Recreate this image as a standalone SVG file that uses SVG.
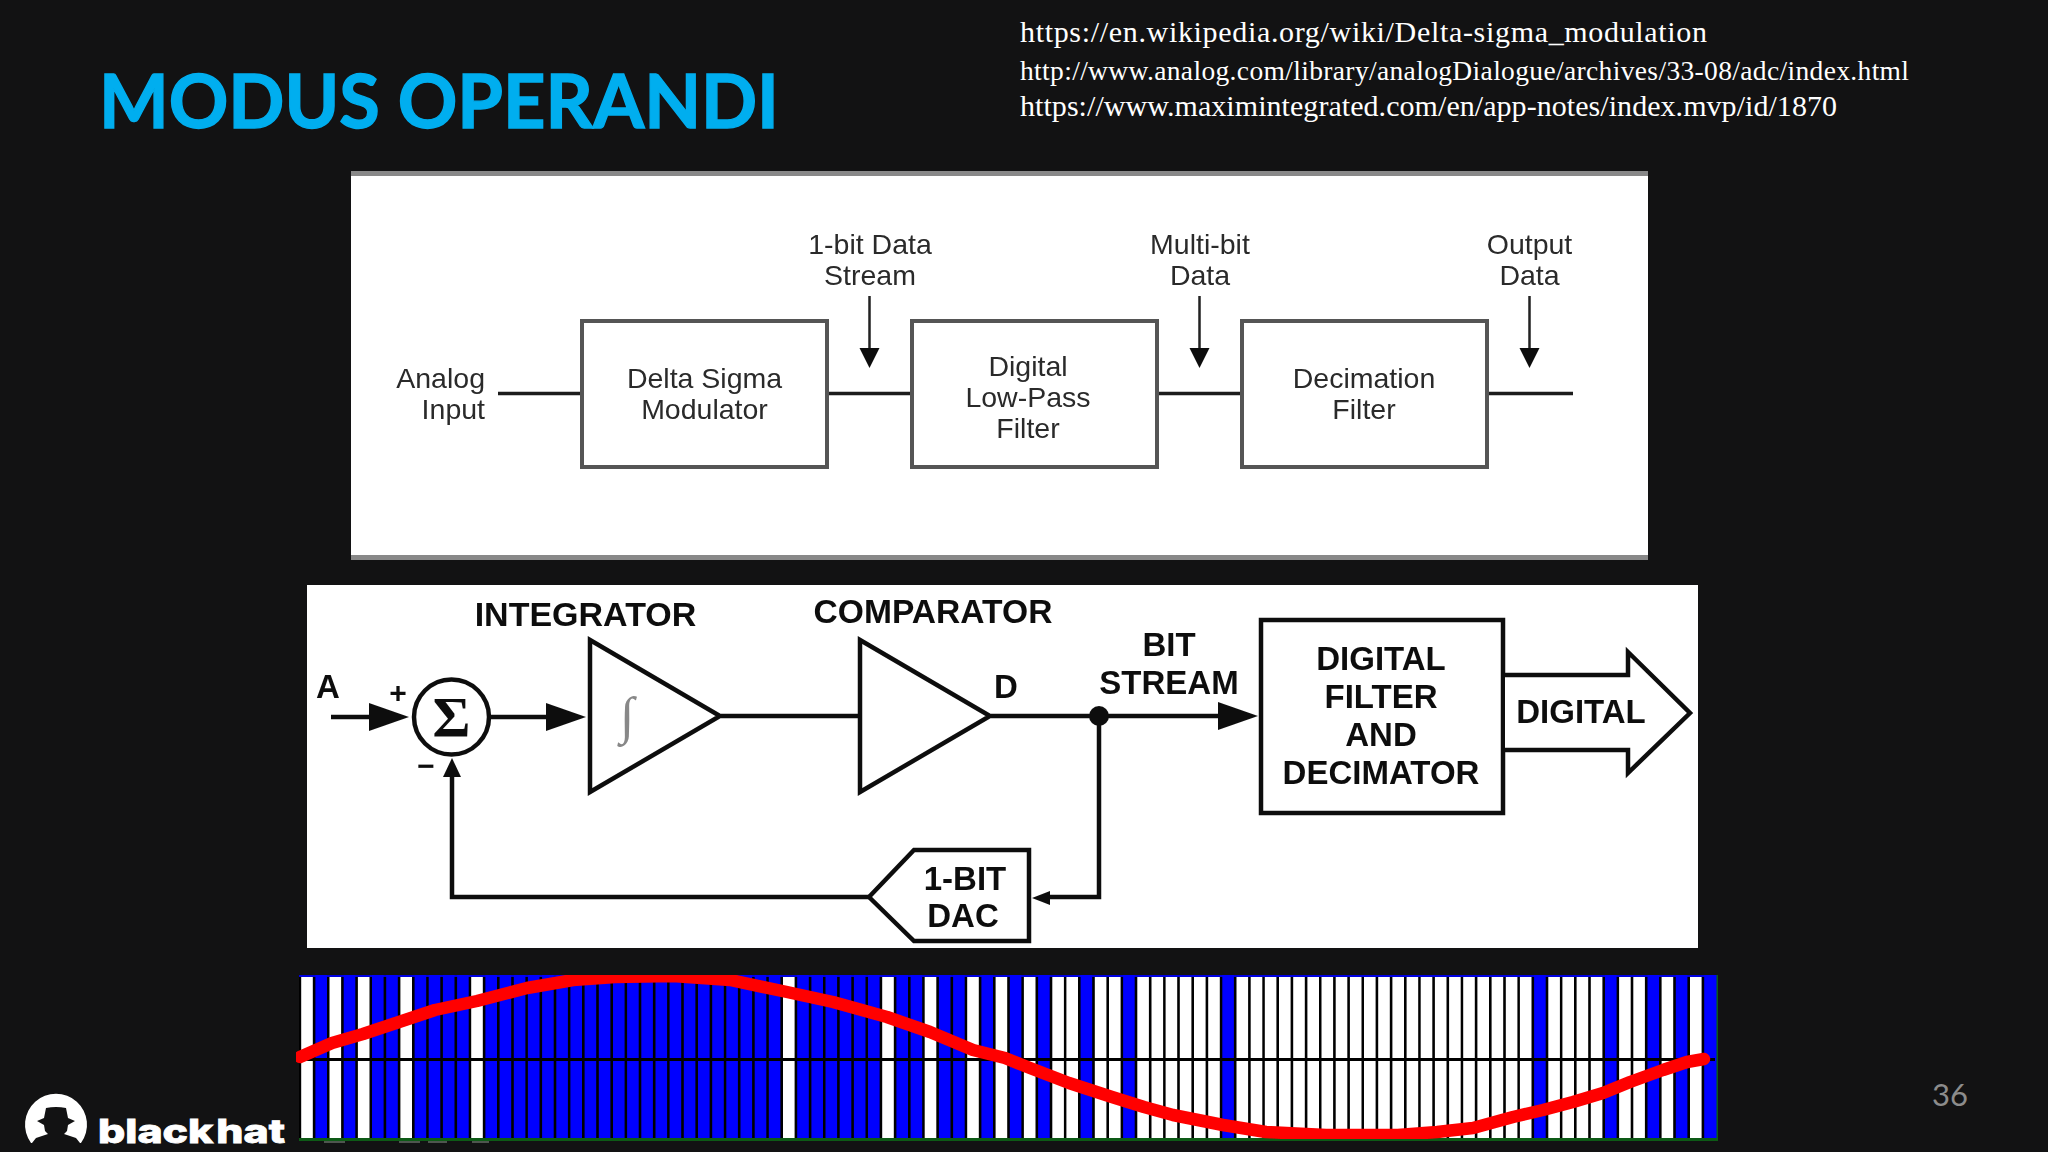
<svg xmlns="http://www.w3.org/2000/svg" width="2048" height="1152" viewBox="0 0 2048 1152">
<defs>
<style>
.p1{font-family:"Liberation Sans",Arial,sans-serif;font-size:28.5px;fill:#2b2b2b;text-anchor:middle}
.p2{font-family:"Liberation Sans",Arial,sans-serif;font-size:33px;font-weight:700;fill:#111;text-anchor:middle}
.link{font-family:"Liberation Serif","Times New Roman",serif;fill:#fff}
.box1{fill:#fff;stroke:#555;stroke-width:4}
.box2{fill:#fff;stroke:#111;stroke-width:4.5;stroke-linejoin:miter}
.l1{fill:none;stroke:#1a1a1a;stroke-width:3.5}
.l1a{fill:none;stroke:#222;stroke-width:2.5}
.l2{fill:none;stroke:#111;stroke-width:4.5}
.b{fill:#0000ff}
.w{fill:#fff}
.soft{filter:url(#soft)}
</style>
<filter id="soft" x="-2%" y="-2%" width="104%" height="104%"><feGaussianBlur stdDeviation="0.7"/></filter>
<marker id="headSmall" markerUnits="userSpaceOnUse" markerWidth="22" markerHeight="22" refX="0" refY="10" orient="auto"><path d="M0 0L20 10L0 20Z" fill="#111"/></marker>
<marker id="headBig" markerUnits="userSpaceOnUse" markerWidth="42" markerHeight="28" refX="0" refY="14" orient="auto"><path d="M0 0L40 14L0 28Z" fill="#111"/></marker>
<clipPath id="plotClip"><rect x="296" y="975" width="1421" height="164"/></clipPath>
</defs>
<rect width="2048" height="1152" fill="#121213"/>
<text id="title" x="99" y="127.500" font-family="Lato,'Open Sans',sans-serif" font-weight="700" font-size="75" fill="#00aeef" stroke="#00aeef" stroke-width="1.400" textLength="680" lengthAdjust="spacingAndGlyphs">MODUS OPERANDI</text>
<g id="links">
<text class="link" x="1020" y="42" font-size="30" textLength="687">https://en.wikipedia.org/wiki/Delta-sigma_modulation</text>
<text class="link" x="1020" y="80" font-size="27.5" textLength="889">http://www.analog.com/library/analogDialogue/archives/33-08/adc/index.html</text>
<text class="link" x="1020" y="116" font-size="30" textLength="817">https://www.maximintegrated.com/en/app-notes/index.mvp/id/1870</text>
</g>

<g id="diagram1" class="soft">
<g id="panel1">
<rect x="351" y="171" width="1297" height="389" fill="#fff"/>
<rect x="351" y="171" width="1297" height="5" fill="#888"/>
<rect x="351" y="555" width="1297" height="5" fill="#888"/>
</g>
<g id="connectors1">
<path class="l1" d="M498 393.500H582M827 393.500H912M1157 393.500H1242M1487 393.500H1573"/>
<path class="l1a" d="M869.500 296V348" marker-end="url(#headSmall)"/>
<path class="l1a" d="M1199.500 296V348" marker-end="url(#headSmall)"/>
<path class="l1a" d="M1529.500 296V348" marker-end="url(#headSmall)"/>
</g>
<g id="node-analog-input"><text class="p1" x="485" y="388" style="text-anchor:end">Analog</text><text class="p1" x="485" y="419" style="text-anchor:end">Input</text></g>
<g id="node-modulator"><rect class="box1" x="582" y="321" width="245" height="146"/><text class="p1" x="704.500" y="388">Delta Sigma</text><text class="p1" x="704.500" y="419">Modulator</text></g>
<g id="node-lowpass"><rect class="box1" x="912" y="321" width="245" height="146"/><text class="p1" x="1028" y="376">Digital</text><text class="p1" x="1028" y="407">Low-Pass</text><text class="p1" x="1028" y="438">Filter</text></g>
<g id="node-decimation"><rect class="box1" x="1242" y="321" width="245" height="146"/><text class="p1" x="1364" y="388">Decimation</text><text class="p1" x="1364" y="419">Filter</text></g>
<g id="label-1bit"><text class="p1" x="870" y="254">1-bit Data</text><text class="p1" x="870" y="285">Stream</text></g>
<g id="label-multibit"><text class="p1" x="1200" y="254">Multi-bit</text><text class="p1" x="1200" y="285">Data</text></g>
<g id="label-output"><text class="p1" x="1529.500" y="254">Output</text><text class="p1" x="1529.500" y="285">Data</text></g>
</g>

<g id="diagram2" class="soft">
<rect id="panel2" x="307" y="585" width="1391" height="363" fill="#fff"/>
<g id="connectors2">
<path class="l2" d="M331 717H369" marker-end="url(#headBig)"/>
<path class="l2" d="M489 717H546" marker-end="url(#headBig)"/>
<path class="l2" d="M721 716H861"/>
<path class="l2" d="M991 716H1218" marker-end="url(#headBig)"/>
<circle cx="1099" cy="716" r="10" fill="#111"/>
<path class="l2" d="M1099 716V897H1050"/>
<path d="M1032 898L1050 891V905Z" fill="#111"/>
<path class="l2" d="M869 897H452V775"/>
<path d="M452 758L461 777H443Z" fill="#111"/>
</g>
<g id="node-sum"><circle cx="451.500" cy="717" r="37.500" fill="#fff" stroke="#111" stroke-width="4.500"/><text x="451.500" y="737" font-family="'Liberation Serif',serif" font-weight="700" font-size="58" fill="#111" text-anchor="middle">Σ</text></g>
<g id="node-integrator"><path class="box2" d="M590 640V792L720 716Z"/><text x="627" y="733" font-family="'Liberation Serif',serif" font-size="52" fill="#888" text-anchor="middle">∫</text></g>
<g id="node-comparator"><path class="box2" d="M860 640V792L990 716Z"/></g>
<g id="node-dac"><path class="box2" d="M869 897L914 850H1029V941H914Z"/><text class="p2" x="965" y="890">1-BIT</text><text class="p2" x="963" y="927">DAC</text></g>
<g id="node-filter"><rect class="box2" x="1261" y="620" width="242" height="193"/><text class="p2" x="1381" y="670">DIGITAL</text><text class="p2" x="1381" y="708">FILTER</text><text class="p2" x="1381" y="746">AND</text><text class="p2" x="1381" y="784">DECIMATOR</text></g>
<g id="node-digital"><path class="box2" d="M1505 675H1628V652L1690 713L1628 773V750H1505" fill="#fff"/><text class="p2" x="1581" y="723">DIGITAL</text></g>
<g id="labels2">
<text class="p2" x="328" y="698">A</text>
<text class="p2" x="398" y="703" style="font-size:30px">+</text>
<text class="p2" x="426" y="776" style="font-size:30px">−</text>
<text class="p2" x="585.500" y="626" style="font-size:34px">INTEGRATOR</text>
<text class="p2" x="933" y="623" style="font-size:33.600px">COMPARATOR</text>
<text class="p2" x="1006" y="698">D</text>
<text class="p2" x="1169" y="656">BIT</text>
<text class="p2" x="1169" y="694">STREAM</text>
</g>
</g>

<g id="bitstream" class="soft">
<rect x="299" y="975" width="1418" height="166" fill="#000"/>
<rect x="299" y="975" width="1418" height="2" fill="#0000e0"/>
<g id="bars">
<rect class="w" x="301.200" y="977" width="11.600" height="161"/><rect class="b" x="315.400" y="975" width="11.600" height="163"/><rect class="w" x="329.500" y="977" width="11.600" height="161"/><rect class="b" x="343.700" y="975" width="11.600" height="163"/><rect class="w" x="357.900" y="977" width="11.600" height="161"/><rect class="b" x="372" y="975" width="11.600" height="163"/><rect class="b" x="386.200" y="975" width="11.600" height="163"/><rect class="w" x="400.400" y="977" width="11.600" height="161"/><rect class="b" x="414.600" y="975" width="11.600" height="163"/><rect class="b" x="428.700" y="975" width="11.600" height="163"/><rect class="b" x="442.900" y="975" width="11.600" height="163"/><rect class="b" x="457.100" y="975" width="11.600" height="163"/><rect class="w" x="471.200" y="977" width="11.600" height="161"/>
<rect class="b" x="485.400" y="975" width="11.600" height="163"/><rect class="b" x="499.600" y="975" width="11.600" height="163"/><rect class="b" x="513.800" y="975" width="11.600" height="163"/><rect class="b" x="527.900" y="975" width="11.600" height="163"/><rect class="b" x="542.100" y="975" width="11.600" height="163"/><rect class="b" x="556.300" y="975" width="11.600" height="163"/><rect class="b" x="570.400" y="975" width="11.600" height="163"/><rect class="b" x="584.600" y="975" width="11.600" height="163"/><rect class="b" x="598.800" y="975" width="11.600" height="163"/><rect class="b" x="613" y="975" width="11.600" height="163"/><rect class="b" x="627.100" y="975" width="11.600" height="163"/><rect class="b" x="641.300" y="975" width="11.600" height="163"/><rect class="b" x="655.500" y="975" width="11.600" height="163"/><rect class="b" x="669.600" y="975" width="11.600" height="163"/><rect class="b" x="683.800" y="975" width="11.600" height="163"/><rect class="b" x="698" y="975" width="11.600" height="163"/><rect class="b" x="712.200" y="975" width="11.600" height="163"/><rect class="b" x="726.300" y="975" width="11.600" height="163"/><rect class="b" x="740.500" y="975" width="11.600" height="163"/><rect class="b" x="754.700" y="975" width="11.600" height="163"/><rect class="b" x="768.800" y="975" width="11.600" height="163"/>
<rect class="w" x="783" y="977" width="11.600" height="161"/><rect class="b" x="797.200" y="975" width="11.600" height="163"/><rect class="b" x="811.400" y="975" width="11.600" height="163"/><rect class="b" x="825.500" y="975" width="11.600" height="163"/><rect class="b" x="839.700" y="975" width="11.600" height="163"/><rect class="b" x="853.900" y="975" width="11.600" height="163"/><rect class="b" x="868" y="975" width="11.600" height="163"/><rect class="w" x="882.200" y="977" width="11.600" height="161"/><rect class="b" x="896.400" y="975" width="11.600" height="163"/><rect class="b" x="910.600" y="975" width="11.600" height="163"/><rect class="w" x="924.700" y="977" width="11.600" height="161"/><rect class="b" x="938.900" y="975" width="11.600" height="163"/><rect class="b" x="953.100" y="975" width="11.600" height="163"/><rect class="w" x="967.200" y="977" width="11.600" height="161"/><rect class="b" x="981.400" y="975" width="11.600" height="163"/><rect class="w" x="995.600" y="977" width="11.600" height="161"/><rect class="b" x="1009.800" y="975" width="11.600" height="163"/><rect class="w" x="1023.900" y="977" width="11.600" height="161"/><rect class="b" x="1038.100" y="975" width="11.600" height="163"/><rect class="w" x="1052.300" y="977" width="11.600" height="161"/><rect class="w" x="1066.400" y="977" width="11.600" height="161"/><rect class="b" x="1080.600" y="975" width="11.600" height="163"/><rect class="w" x="1094.800" y="977" width="11.600" height="161"/><rect class="w" x="1109" y="977" width="11.600" height="161"/><rect class="b" x="1123.100" y="975" width="11.600" height="163"/>
<rect class="w" x="1137.300" y="977" width="11.600" height="161"/><rect class="w" x="1151.500" y="977" width="11.600" height="161"/><rect class="w" x="1165.600" y="977" width="11.600" height="161"/><rect class="w" x="1179.800" y="977" width="11.600" height="161"/><rect class="w" x="1194" y="977" width="11.600" height="161"/><rect class="w" x="1208.200" y="977" width="11.600" height="161"/><rect class="b" x="1222.300" y="975" width="11.600" height="163"/><rect class="w" x="1236.500" y="977" width="11.600" height="161"/><rect class="w" x="1250.700" y="977" width="11.600" height="161"/><rect class="w" x="1264.800" y="977" width="11.600" height="161"/><rect class="w" x="1279" y="977" width="11.600" height="161"/><rect class="w" x="1293.200" y="977" width="11.600" height="161"/><rect class="w" x="1307.400" y="977" width="11.600" height="161"/><rect class="w" x="1321.500" y="977" width="11.600" height="161"/><rect class="w" x="1335.700" y="977" width="11.600" height="161"/><rect class="w" x="1349.900" y="977" width="11.600" height="161"/><rect class="w" x="1364" y="977" width="11.600" height="161"/><rect class="w" x="1378.200" y="977" width="11.600" height="161"/><rect class="w" x="1392.400" y="977" width="11.600" height="161"/><rect class="w" x="1406.600" y="977" width="11.600" height="161"/><rect class="w" x="1420.700" y="977" width="11.600" height="161"/><rect class="w" x="1434.900" y="977" width="11.600" height="161"/><rect class="w" x="1449.100" y="977" width="11.600" height="161"/><rect class="w" x="1463.200" y="977" width="11.600" height="161"/><rect class="w" x="1477.400" y="977" width="11.600" height="161"/><rect class="w" x="1491.600" y="977" width="11.600" height="161"/><rect class="w" x="1505.800" y="977" width="11.600" height="161"/><rect class="w" x="1519.900" y="977" width="11.600" height="161"/>
<rect class="b" x="1534.100" y="975" width="11.600" height="163"/><rect class="w" x="1548.300" y="977" width="11.600" height="161"/><rect class="w" x="1562.400" y="977" width="11.600" height="161"/><rect class="w" x="1576.600" y="977" width="11.600" height="161"/><rect class="w" x="1590.800" y="977" width="11.600" height="161"/><rect class="b" x="1605" y="975" width="11.600" height="163"/><rect class="w" x="1619.100" y="977" width="11.600" height="161"/><rect class="w" x="1633.300" y="977" width="11.600" height="161"/><rect class="b" x="1647.500" y="975" width="11.600" height="163"/><rect class="w" x="1661.600" y="977" width="11.600" height="161"/><rect class="b" x="1675.800" y="975" width="11.600" height="163"/><rect class="w" x="1690" y="977" width="11.600" height="161"/><rect class="b" x="1704.200" y="975" width="12.800" height="163"/>
</g>
<rect x="299" y="1058" width="1416" height="3" fill="#000"/>
<rect x="299" y="1138" width="1419" height="3" fill="#0b5a14"/>
<rect x="1716.500" y="975" width="1.500" height="165" fill="#0b5a14"/>
<polyline clip-path="url(#plotClip)" fill="none" stroke="#ff0000" stroke-width="12.500" stroke-linejoin="round" stroke-linecap="round" points="300,1057 332,1043 363,1034 405,1020 435,1010 477,1001 527,988 573,980 615,977 673,976 730,980 787,992 833,1002 887,1017 930,1032 973,1050 1005,1058 1030,1068 1069,1083 1112,1097 1144,1107 1173,1115 1223,1125 1266,1132 1326,1135 1398,1135 1437,1132 1473,1128 1513,1117 1543,1110 1573,1102 1603,1093 1630,1082 1663,1070 1687,1062 1704,1059"/>
<path d="M324 1142h21M399 1142h21M428 1142h19M472 1142h17" stroke="#8a988a" stroke-width="1.200" fill="none"/>
</g>

<g id="logo">
<path d="M31 1143A31 31 0 1 1 81 1143Z" fill="#fff"/>
<path d="M46 1108Q56 1106 66 1108L68 1118L75 1121L68 1125L67 1131L64 1134L76 1138L80 1143H32L36 1138L48 1134L45 1131L44 1125L37 1121L44 1118Z" fill="#121213"/>
<text x="98" y="1143" font-family="Inter,'Liberation Sans',sans-serif" font-weight="800" font-size="33" fill="#fff" stroke="#fff" stroke-width="0.800" word-spacing="-5" textLength="187" lengthAdjust="spacingAndGlyphs">black hat</text>
</g>
<text id="page-number" x="1950" y="1106" font-family="Lato,sans-serif" font-size="31" fill="#8c8c8c" text-anchor="middle">36</text>
</svg>
